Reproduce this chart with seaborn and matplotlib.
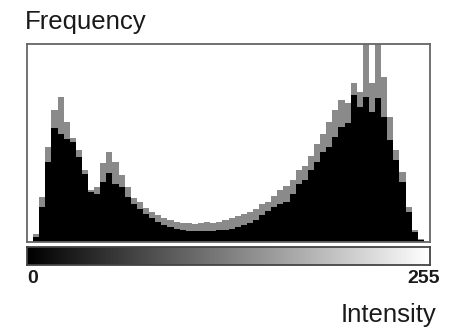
import numpy as np
import pandas as pd
import matplotlib
matplotlib.use("Agg")
import matplotlib.pyplot as plt
import seaborn as sns

# 64 intensity bins (width 4) over 0..255
bin_centers = [4 * k + 2 for k in range(64)]
black_counts = [5, 35, 80, 114, 108, 103, 100, 85, 68, 50, 48, 60, 69, 58, 55, 45,
                38, 33, 28, 24, 20, 17, 15, 13, 12, 11, 11, 11, 11, 11, 12, 12,
                13, 15, 17, 19, 22, 27, 31, 35, 38, 40, 48, 58, 62, 72, 80, 90,
                95, 105, 115, 119, 147, 135, 145, 130, 144, 125, 102, 82, 60, 30, 10, 2]
gray_counts = [8, 45, 95, 132, 145, 120, 104, 92, 72, 52, 55, 79, 90, 80, 67, 55,
               44, 40, 34, 30, 27, 24, 22, 20, 19, 19, 18, 19, 20, 19, 20, 22,
               24, 26, 28, 30, 33, 38, 40, 46, 52, 56, 62, 72, 76, 86, 98, 108,
               120, 132, 142, 139, 159, 150, 198, 159, 198, 165, 125, 92, 70, 35, 12, 3]
tick_labels = ["0", "255"]

df = pd.DataFrame({"intensity": bin_centers, "black": black_counts, "gray": gray_counts})

sns.set_theme(style="white")
plt.rcParams["font.family"] = ["Liberation Sans", "DejaVu Sans"]

fig = plt.figure(figsize=(4.59, 3.27), dpi=100)
ax = fig.add_axes([27 / 459, 1 - 242 / 327, 403 / 459, 198 / 327])
sns.histplot(data=df, x="intensity", weights="gray", binwidth=4, binrange=(0, 256),
             element="step", fill=True, color="#8a8a8a", alpha=1, linewidth=0, ax=ax)
sns.histplot(data=df, x="intensity", weights="black", binwidth=4, binrange=(0, 256),
             element="step", fill=True, color="black", alpha=1, linewidth=0, ax=ax)
ax.set_xlim(-4, 260)
ax.set_ylim(0, 198)
ax.set_xticks([])
ax.set_yticks([])
ax.set_xlabel("")
ax.set_ylabel("")
for s in ax.spines.values():
    s.set_color("#666666")
    s.set_linewidth(1.3)
    s.set_visible(True)

gax = fig.add_axes([27 / 459, 1 - 265 / 327, 403 / 459, 18 / 327])
grad = np.linspace(0, 1, 256)[None, :]
gax.imshow(grad, aspect="auto", cmap="gray", extent=(-4, 260, 0, 1))
gax.set_xlim(-4, 260)
gax.set_xticks([])
gax.set_yticks([])
for s in gax.spines.values():
    s.set_color("#444444")
    s.set_linewidth(1.3)

gax.text(0, -0.3, tick_labels[0], ha="center", va="top", fontsize=14,
         fontweight="bold", color="#1a1a1a", transform=gax.get_xaxis_transform())
gax.text(256, -0.3, tick_labels[1], ha="center", va="top", fontsize=14,
         fontweight="bold", color="#1a1a1a", transform=gax.get_xaxis_transform())

fig.text(25 / 459, 1 - 29 / 327, "Frequency", ha="left", va="baseline",
         fontsize=18.5, color="#1a1a1a")
fig.text(436 / 459, 1 - 322 / 327, "Intensity", ha="right", va="baseline",
         fontsize=18.5, color="#1a1a1a")

fig.savefig("out.png", dpi=100)
